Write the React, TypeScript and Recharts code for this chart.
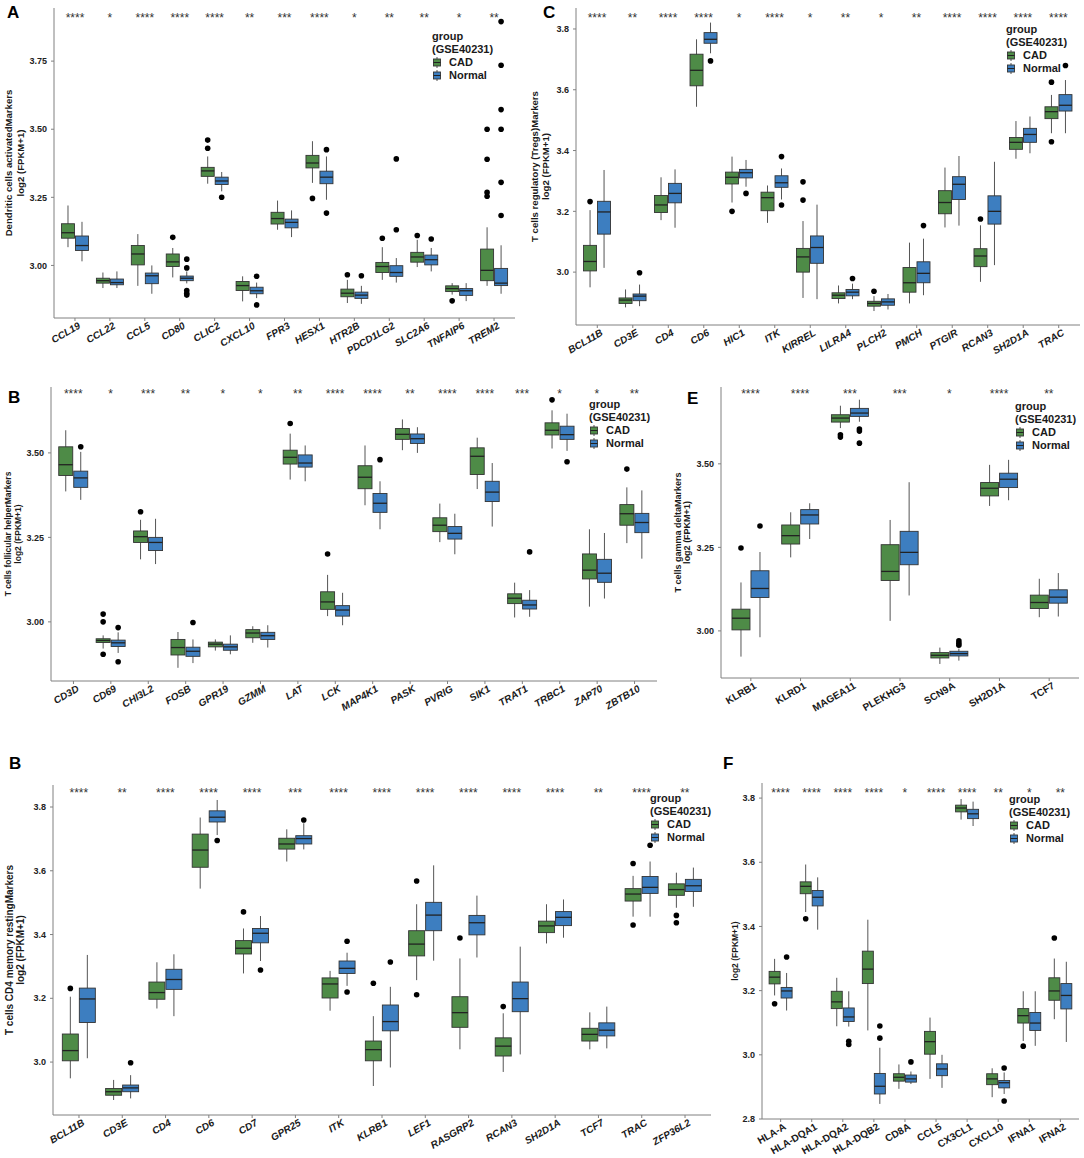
import { ComposedChart, Bar, XAxis, YAxis, Legend } from 'recharts'

const FONT = '"Liberation Sans", Arial, Helvetica, sans-serif'
const GREEN = '#4e8b47'
const BLUE = '#3d7ec0'

// ---- A: Dendritic cells activated ----
const aGenes = ['CCL19', 'CCL22', 'CCL5', 'CD80', 'CLIC2', 'CXCL10', 'FPR3', 'HESX1', 'HTR2B', 'PDCD1LG2', 'SLC2A6', 'TNFAIP6', 'TREM2']
const aSig = ['****', '*', '****', '****', '****', '**', '***', '****', '*', '**', '**', '*', '**']
const aCad = [
  [3.067, 3.1, 3.12, 3.153, 3.22], [2.917, 2.935, 2.944, 2.953, 2.974], [2.925, 3.002, 3.042, 3.073, 3.115],
  [2.956, 2.996, 3.013, 3.042, 3.064], [3.3, 3.327, 3.347, 3.36, 3.4], [2.868, 2.908, 2.926, 2.941, 2.96],
  [3.131, 3.152, 3.172, 3.195, 3.238], [3.303, 3.358, 3.376, 3.404, 3.456], [2.862, 2.885, 2.898, 2.913, 2.947],
  [2.947, 2.974, 2.996, 3.011, 3.067], [2.994, 3.012, 3.031, 3.048, 3.094], [2.893, 2.904, 2.915, 2.925, 2.935],
  [2.925, 2.944, 2.982, 3.06, 3.14],
]
const aCadOut = [[], [], [], [3.103], [3.46, 3.43], [], [], [3.246], [2.966], [3.1], [3.11], [2.87], [3.5, 3.39, 3.268, 3.254]]
const aNormal = [
  [3.015, 3.055, 3.073, 3.108, 3.16], [2.917, 2.929, 2.937, 2.95, 2.978], [2.896, 2.933, 2.962, 2.972, 3.0],
  [2.934, 2.944, 2.953, 2.961, 2.978], [3.272, 3.297, 3.31, 3.324, 3.343], [2.88, 2.896, 2.907, 2.92, 2.937],
  [3.104, 3.138, 3.158, 3.17, 3.202], [3.241, 3.3, 3.324, 3.346, 3.4], [2.859, 2.879, 2.891, 2.902, 2.925],
  [2.937, 2.96, 2.974, 2.999, 3.027], [2.978, 3.002, 3.021, 3.038, 3.064], [2.869, 2.89, 2.907, 2.915, 2.935],
  [2.896, 2.926, 2.935, 2.989, 3.074],
]
const aNormalOut = [[], [], [], [3.023, 2.991, 2.908, 2.898, 2.891], [3.25], [2.96, 2.855], [], [3.425, 3.192], [2.962], [3.391, 3.131], [3.097], [], [3.895, 3.735, 3.572, 3.5, 3.305, 3.183]]

// ---- C: T cells regulatory (Tregs) ----
const cGenes = ['BCL11B', 'CD3E', 'CD4', 'CD6', 'HIC1', 'ITK', 'KIRREL', 'LILRA4', 'PLCH2', 'PMCH', 'PTGIR', 'RCAN3', 'SH2D1A', 'TRAC']
const cSig = ['****', '**', '****', '****', '*', '****', '*', '**', '*', '**', '****', '****', '****', '****']
const cCad = [
  [2.95, 3.004, 3.035, 3.088, 3.204], [2.884, 2.897, 2.908, 2.915, 2.943], [3.171, 3.196, 3.221, 3.252, 3.312],
  [3.544, 3.613, 3.664, 3.717, 3.766], [3.229, 3.29, 3.312, 3.329, 3.38], [3.162, 3.202, 3.245, 3.263, 3.285],
  [2.915, 3.0, 3.05, 3.078, 3.168], [2.897, 2.913, 2.924, 2.932, 2.956], [2.872, 2.888, 2.897, 2.904, 2.921],
  [2.897, 2.934, 2.965, 3.015, 3.097], [3.147, 3.192, 3.229, 3.268, 3.344], [2.968, 3.018, 3.053, 3.077, 3.154],
  [3.373, 3.404, 3.427, 3.443, 3.497], [3.457, 3.505, 3.528, 3.544, 3.583],
]
const cCadOut = [[3.232], [], [], [], [3.2], [], [3.297, 3.237], [], [2.937], [], [], [3.175], [], [3.625, 3.429]]
const cNormal = [
  [3.014, 3.125, 3.198, 3.233, 3.336], [2.888, 2.906, 2.921, 2.928, 2.959], [3.146, 3.228, 3.259, 3.292, 3.338],
  [3.72, 3.753, 3.766, 3.788, 3.821], [3.281, 3.31, 3.327, 3.338, 3.369], [3.239, 3.279, 3.294, 3.317, 3.341],
  [2.911, 3.029, 3.081, 3.119, 3.222], [2.911, 2.922, 2.934, 2.943, 2.962], [2.877, 2.891, 2.902, 2.912, 2.928],
  [2.924, 2.965, 2.996, 3.034, 3.11], [3.153, 3.239, 3.289, 3.314, 3.382], [3.023, 3.158, 3.2, 3.251, 3.363],
  [3.391, 3.427, 3.453, 3.473, 3.512], [3.457, 3.53, 3.549, 3.584, 3.632],
]
const cNormalOut = [[], [2.998], [], [3.695], [3.259], [3.38, 3.221], [], [2.979], [], [3.153], [], [], [], [3.68]]

// ---- B (top): T cells follicular helper ----
const bGenes = ['CD3D', 'CD69', 'CHI3L2', 'FOSB', 'GPR19', 'GZMM', 'LAT', 'LCK', 'MAP4K1', 'PASK', 'PVRIG', 'SIK1', 'TRAT1', 'TRBC1', 'ZAP70', 'ZBTB10']
const bSig = ['****', '*', '***', '**', '*', '*', '**', '****', '****', '**', '****', '****', '***', '*', '*', '**']
const bCad = [
  [3.386, 3.433, 3.465, 3.518, 3.567], [2.921, 2.939, 2.945, 2.95, 2.96], [3.185, 3.235, 3.252, 3.269, 3.302],
  [2.864, 2.902, 2.924, 2.948, 2.97], [2.915, 2.926, 2.934, 2.94, 2.948], [2.938, 2.953, 2.967, 2.977, 2.987],
  [3.421, 3.467, 3.487, 3.508, 3.557], [3.017, 3.037, 3.059, 3.089, 3.139], [3.345, 3.394, 3.428, 3.462, 3.522],
  [3.508, 3.54, 3.555, 3.572, 3.599], [3.236, 3.267, 3.286, 3.308, 3.35], [3.393, 3.436, 3.49, 3.515, 3.545],
  [3.013, 3.054, 3.07, 3.083, 3.116], [3.513, 3.553, 3.567, 3.589, 3.626], [3.045, 3.127, 3.153, 3.201, 3.274],
  [3.233, 3.286, 3.32, 3.347, 3.398],
]
const bCadOut = [[], [3.023, 3.0, 2.904], [3.326], [], [], [], [3.587], [3.201], [], [], [], [], [], [3.657], [], [3.452]]
const bNormal = [
  [3.361, 3.398, 3.426, 3.446, 3.503], [2.908, 2.927, 2.938, 2.946, 2.969], [3.171, 3.211, 3.235, 3.25, 3.305],
  [2.878, 2.898, 2.913, 2.925, 2.948], [2.904, 2.916, 2.926, 2.934, 2.96], [2.924, 2.948, 2.959, 2.969, 2.99],
  [3.416, 3.458, 3.47, 3.494, 3.522], [2.99, 3.017, 3.035, 3.048, 3.086], [3.274, 3.324, 3.351, 3.38, 3.416],
  [3.5, 3.528, 3.542, 3.556, 3.576], [3.2, 3.245, 3.262, 3.282, 3.32], [3.282, 3.356, 3.384, 3.416, 3.47],
  [3.015, 3.038, 3.05, 3.064, 3.094], [3.506, 3.54, 3.554, 3.579, 3.616], [3.069, 3.117, 3.144, 3.185, 3.263],
  [3.187, 3.264, 3.294, 3.321, 3.389],
]
const bNormalOut = [[3.518], [2.983, 2.882], [], [2.998], [], [], [], [], [3.48], [], [], [], [3.207], [3.474], [], []]

// ---- E: T cells gamma delta ----
const eGenes = ['KLRB1', 'KLRD1', 'MAGEA11', 'PLEKHG3', 'SCN9A', 'SH2D1A', 'TCF7']
const eSig = ['****', '****', '***', '***', '*', '****', '**']
const eCad = [
  [2.923, 3.003, 3.038, 3.065, 3.145], [3.22, 3.26, 3.285, 3.317, 3.355], [3.607, 3.625, 3.637, 3.647, 3.674],
  [3.03, 3.151, 3.178, 3.258, 3.332], [2.901, 2.919, 2.927, 2.935, 2.95], [3.374, 3.404, 3.427, 3.444, 3.497],
  [3.041, 3.067, 3.085, 3.107, 3.156],
]
const eCadOut = [[3.248], [], [3.587, 3.58], [], [], [], []]
const eNormal = [
  [2.981, 3.1, 3.127, 3.18, 3.236], [3.275, 3.32, 3.347, 3.363, 3.382], [3.626, 3.642, 3.652, 3.666, 3.692],
  [3.106, 3.198, 3.235, 3.298, 3.445], [2.911, 2.925, 2.932, 2.939, 2.947], [3.391, 3.429, 3.454, 3.472, 3.512],
  [3.043, 3.083, 3.101, 3.123, 3.173],
]
const eNormalOut = [[3.314], [], [3.604, 3.598, 3.562], [], [2.97, 2.963, 2.957], [], []]

// ---- B (bottom): T cells CD4 memory resting ----
const mGenes = ['BCL11B', 'CD3E', 'CD4', 'CD6', 'CD7', 'GPR25', 'ITK', 'KLRB1', 'LEF1', 'RASGRP2', 'RCAN3', 'SH2D1A', 'TCF7', 'TRAC', 'ZFP36L2']
const mSig = ['****', '**', '****', '****', '****', '***', '****', '****', '****', '****', '****', '****', '**', '****', '**']
const mCad = [
  [2.949, 3.004, 3.036, 3.088, 3.205], [2.881, 2.896, 2.907, 2.917, 2.944], [3.168, 3.197, 3.218, 3.251, 3.313],
  [3.544, 3.611, 3.665, 3.715, 3.767], [3.278, 3.339, 3.357, 3.381, 3.419], [3.629, 3.668, 3.684, 3.702, 3.73],
  [3.161, 3.201, 3.245, 3.264, 3.286], [2.925, 3.004, 3.039, 3.066, 3.144], [3.257, 3.333, 3.37, 3.412, 3.495],
  [3.04, 3.109, 3.155, 3.205, 3.325], [2.969, 3.019, 3.05, 3.076, 3.153], [3.372, 3.406, 3.427, 3.442, 3.495],
  [3.04, 3.066, 3.087, 3.106, 3.156], [3.456, 3.505, 3.527, 3.544, 3.584], [3.484, 3.523, 3.541, 3.559, 3.594],
]
const mCadOut = [[3.231], [], [], [], [3.471], [], [], [3.247], [3.568, 3.211], [3.389], [3.174], [], [], [3.623, 3.43], [3.46, 3.437]]
const mNormal = [
  [3.012, 3.124, 3.198, 3.232, 3.336], [2.886, 2.907, 2.919, 2.928, 2.959], [3.144, 3.228, 3.259, 3.291, 3.338],
  [3.712, 3.753, 3.768, 3.788, 3.822], [3.317, 3.374, 3.404, 3.419, 3.458], [3.667, 3.684, 3.701, 3.71, 3.749],
  [3.239, 3.278, 3.294, 3.317, 3.343], [2.983, 3.098, 3.127, 3.179, 3.236], [3.318, 3.412, 3.461, 3.501, 3.617],
  [3.328, 3.399, 3.437, 3.46, 3.522], [3.024, 3.158, 3.199, 3.251, 3.362], [3.39, 3.428, 3.454, 3.472, 3.51],
  [3.043, 3.082, 3.1, 3.123, 3.174], [3.456, 3.529, 3.548, 3.582, 3.629], [3.487, 3.535, 3.553, 3.573, 3.61],
]
const mNormalOut = [[], [2.998], [], [3.695], [3.289], [3.759], [3.379, 3.22], [3.314], [], [], [], [], [], [3.68], []]

// ---- F ----
const fGenes = ['HLA-A', 'HLA-DQA1', 'HLA-DQA2', 'HLA-DQB2', 'CD8A', 'CCL5', 'CX3CL1', 'CXCL10', 'IFNA1', 'IFNA2']
const fSig = ['****', '****', '****', '****', '*', '****', '****', '**', '*', '**']
const fCad = [
  [3.185, 3.221, 3.242, 3.26, 3.299], [3.445, 3.502, 3.525, 3.539, 3.593], [3.089, 3.144, 3.165, 3.198, 3.24],
  [3.076, 3.222, 3.267, 3.323, 3.421], [2.894, 2.918, 2.93, 2.941, 2.97], [2.925, 3.002, 3.041, 3.073, 3.116],
  [3.733, 3.757, 3.769, 3.778, 3.797], [2.868, 2.907, 2.925, 2.941, 2.958], [3.043, 3.099, 3.122, 3.144, 3.198],
  [3.111, 3.17, 3.199, 3.24, 3.3],
]
const fCadOut = [[3.159], [3.424], [], [], [], [], [], [], [3.027], [3.364]]
const fNormal = [
  [3.138, 3.177, 3.199, 3.21, 3.255], [3.39, 3.464, 3.491, 3.512, 3.553], [3.088, 3.104, 3.118, 3.146, 3.198],
  [2.847, 2.878, 2.902, 2.942, 3.022], [2.909, 2.915, 2.925, 2.937, 2.948], [2.897, 2.935, 2.956, 2.972, 3.0],
  [3.713, 3.736, 3.751, 3.765, 3.789], [2.878, 2.897, 2.913, 2.92, 2.945], [3.028, 3.076, 3.099, 3.132, 3.198],
  [3.04, 3.143, 3.185, 3.222, 3.29],
]
const fNormalOut = [[3.305], [], [3.042, 3.032], [3.09, 3.052], [2.978], [], [], [2.959, 2.856], [], []]

// box drawn inside the range bar [lower whisker, upper whisker]
const BoxShape = (props: any) => {
  const { x, y, width, height, payload, group, color, domTop, starDy } = props
  const s: number[] = payload[group]
  const out: number[] = payload[group + 'Out'] || []
  const top = Math.min(y, y + height)
  const bot = Math.max(y, y + height)
  const lo = s[0]
  const hi = s[4]
  const py = (v: number) => top + ((hi - v) / (hi - lo)) * (bot - top)
  const cx = x + width / 2
  return (
    <g>
      <line x1={cx} x2={cx} y1={py(hi)} y2={py(lo)} stroke="#555" strokeWidth={1} />
      <rect x={x} y={py(s[3])} width={width} height={py(s[1]) - py(s[3])} fill={color} stroke="#333" strokeWidth={0.9} />
      <line x1={x} x2={x + width} y1={py(s[2])} y2={py(s[2])} stroke="#222" strokeWidth={1.3} />
      {out.map((v, i) => (
        <circle key={i} cx={cx} cy={py(v)} r={2.8} fill="#000" />
      ))}
      {group === 'cad' && (
        // significance stars, centred over the pair, near the top of the panel
        <text x={x + width + 0.5} y={py(domTop) + starDy} textAnchor="middle" fontSize={12} fill="#333">
          {payload.sig}
        </text>
      )}
    </g>
  )
}

const XTick = (props: any) => {
  const { x, y, payload, italic } = props
  return (
    <g transform={`translate(${x},${y})`}>
      <text x={3} y={0} dy="0.72em" textAnchor="end" transform="rotate(-30)" fontSize={10} fontWeight={700}
        fontStyle={italic ? 'italic' : 'normal'} fill="#1a1a1a">
        {payload.value}
      </text>
    </g>
  )
}

const YLab = (props: any) => {
  const { lines, xs, cy, size } = props
  return (
    <g>
      {lines.map((t: string, i: number) => (
        <text key={i} x={xs[i]} y={cy} transform={`rotate(-90 ${xs[i]} ${cy})`} textAnchor="middle"
          dominantBaseline="central" fontSize={size} fontWeight={700} fill="#1a1a1a">
          {t}
        </text>
      ))}
    </g>
  )
}

const KeyIcon = ({ color }: { color: string }) => (
  <svg width={8} height={11} style={{ marginRight: 8 }}>
    <line x1={4} x2={4} y1={0} y2={11} stroke="#555" />
    <rect x={0.5} y={2} width={7} height={7} fill={color} stroke="#333" strokeWidth={0.9} />
    <line x1={0.5} x2={7.5} y1={5.5} y2={5.5} stroke="#222" />
  </svg>
)

const LegendBox = (props: any) => (
  <div style={{ fontFamily: FONT, fontWeight: 700, fontSize: 11, color: '#1a1a1a', lineHeight: '13px' }}>
    <div>group</div>
    <div>(GSE40231)</div>
    {(props.payload || []).map((e: any) => (
      <div key={e.value} style={{ display: 'flex', alignItems: 'center', height: 12, marginTop: 1, paddingLeft: 1 }}>
        <KeyIcon color={e.color} />
        <span>{e.value}</span>
      </div>
    ))}
  </div>
)

type PanelProps = {
  letter: string; letterX: number; letterY: number
  genes: string[]; sig: string[]; cad: number[][]; cadOut: number[][]; normal: number[][]; normalOut: number[][]
  left: number; top: number; width: number; height: number; yw: number; mt: number; xh: number
  domain: [number, number]; ticks: number[]; dec: number
  yLabel: string[]; yLabelX: number[]; yLabelSize: number; italic: boolean; starDy: number
  legendLeft: number; legendTop: number
}

function Panel(p: PanelProps) {
  const data = p.genes.map((g, i) => ({
    name: g, sig: p.sig[i], cad: p.cad[i], normal: p.normal[i], cadOut: p.cadOut[i], normalOut: p.normalOut[i],
  }))
  const plotW = p.width - p.yw
  const step = plotW / (p.genes.length + 0.2)
  const pad = step * 0.1
  const bs = Math.round(step * 0.37)
  const plotH = p.height - p.mt - p.xh
  const axisStyle = { stroke: '#808080', strokeWidth: 1 }
  return (
    <>
      <div style={{ position: 'absolute', left: p.letterX, top: p.letterY, fontFamily: FONT, fontWeight: 700, fontSize: 17, lineHeight: 1 }}>
        {p.letter}
      </div>
      <div style={{ position: 'absolute', left: p.left, top: p.top, fontFamily: FONT }}>
        <ComposedChart width={p.width} height={p.height} data={data} margin={{ top: p.mt, right: 0, bottom: 0, left: 0 }} barGap={1}>
          <XAxis dataKey="name" interval={0} height={p.xh} padding={{ left: pad, right: pad }} tickSize={3}
            axisLine={axisStyle} tickLine={axisStyle} tick={<XTick italic={p.italic} />} />
          <YAxis type="number" domain={p.domain} ticks={p.ticks} allowDataOverflow width={p.yw} tickSize={3} tickMargin={4}
            tickFormatter={(v: number) => v.toFixed(p.dec)} axisLine={axisStyle} tickLine={axisStyle}
            tick={{ fontSize: 9, fontWeight: 700, fill: '#222' }}
            label={<YLab lines={p.yLabel} xs={p.yLabelX} cy={p.mt + plotH / 2} size={p.yLabelSize} />} />
          <Legend layout="horizontal" verticalAlign="middle" align="center" content={<LegendBox />}
            wrapperStyle={{ left: p.legendLeft, top: p.legendTop, width: 90 }} />
          <Bar dataKey={(d: any) => [d.cad[0], d.cad[4]]} name="CAD" fill={GREEN} barSize={bs} isAnimationActive={false}
            shape={(sp: any) => <BoxShape {...sp} group="cad" color={GREEN} domTop={p.domain[1]} starDy={p.starDy} />} />
          <Bar dataKey={(d: any) => [d.normal[0], d.normal[4]]} name="Normal" fill={BLUE} barSize={bs} isAnimationActive={false}
            shape={(sp: any) => <BoxShape {...sp} group="normal" color={BLUE} />} />
        </ComposedChart>
      </div>
    </>
  )
}

const LOG = 'log2 (FPKM+1)'

export default function App() {
  return (
    <div style={{ position: 'absolute', left: 0, top: 0, width: 1084, height: 1158, overflow: 'hidden', background: '#fff' }}>
      <Panel letter="A" letterX={7} letterY={4} genes={aGenes} sig={aSig} cad={aCad} cadOut={aCadOut} normal={aNormal} normalOut={aNormalOut}
        left={0} top={0} width={515} height={360} yw={54} mt={8} xh={42} domain={[2.807, 3.945]} ticks={[3.0, 3.25, 3.5, 3.75]} dec={2}
        yLabel={['Dendritic cells activatedMarkers', LOG]} yLabelX={[8.5, 20.5]} yLabelSize={9.6} italic starDy={14}
        legendLeft={432} legendTop={29.5} />
      <Panel letter="C" letterX={543} letterY={4} genes={cGenes} sig={cSig} cad={cCad} cadOut={cCadOut} normal={cNormal} normalOut={cNormalOut}
        left={520} top={0} width={560} height={367} yw={56} mt={8} xh={42} domain={[2.826, 3.869]} ticks={[3.0, 3.2, 3.4, 3.6, 3.8]} dec={1}
        yLabel={['T cells regulatory (Tregs)Markers', LOG]} yLabelX={[14, 25]} yLabelSize={9.6} italic starDy={14}
        legendLeft={486} legendTop={22.5} />
      <Panel letter="B" letterX={8} letterY={389} genes={bGenes} sig={bSig} cad={bCad} cadOut={bCadOut} normal={bNormal} normalOut={bNormalOut}
        left={0} top={377} width={657} height={349} yw={51} mt={10} xh={45} domain={[2.825, 3.695]} ticks={[3.0, 3.25, 3.5]} dec={2}
        yLabel={['T cells follicular helperMarkers', LOG]} yLabelX={[8, 18]} yLabelSize={8.5} italic starDy={11}
        legendLeft={589} legendTop={20.5} />
      <Panel letter="E" letterX={687} letterY={390} genes={eGenes} sig={eSig} cad={eCad} cadOut={eCadOut} normal={eNormal} normalOut={eNormalOut}
        left={660} top={377} width={419} height={346} yw={61} mt={10} xh={45} domain={[2.859, 3.73]} ticks={[3.0, 3.25, 3.5]} dec={2}
        yLabel={['T cells gamma deltaMarkers', LOG]} yLabelX={[18, 27]} yLabelSize={9} italic={false} starDy={11}
        legendLeft={355} legendTop={22.5} />
      <Panel letter="B" letterX={9} letterY={755} genes={mGenes} sig={mSig} cad={mCad} cadOut={mCadOut} normal={mNormal} normalOut={mNormalOut}
        left={0} top={775} width={711} height={383} yw={53} mt={10} xh={43} domain={[2.834, 3.869]} ticks={[3.0, 3.2, 3.4, 3.6, 3.8]} dec={1}
        yLabel={['T cells CD4 memory restingMarkers', LOG]} yLabelX={[9, 20]} yLabelSize={10} italic starDy={12}
        legendLeft={650} legendTop={16.5} />
      <Panel letter="F" letterX={723} letterY={755} genes={fGenes} sig={fSig} cad={fCad} cadOut={fCadOut} normal={fNormal} normalOut={fNormalOut}
        left={700} top={773} width={379} height={385} yw={62} mt={10} xh={39} domain={[2.8, 3.847]} ticks={[2.8, 3.0, 3.2, 3.4, 3.6, 3.8]} dec={1}
        yLabel={[LOG]} yLabelX={[35]} yLabelSize={8.5} italic={false} starDy={14}
        legendLeft={309} legendTop={19.5} />
    </div>
  )
}
